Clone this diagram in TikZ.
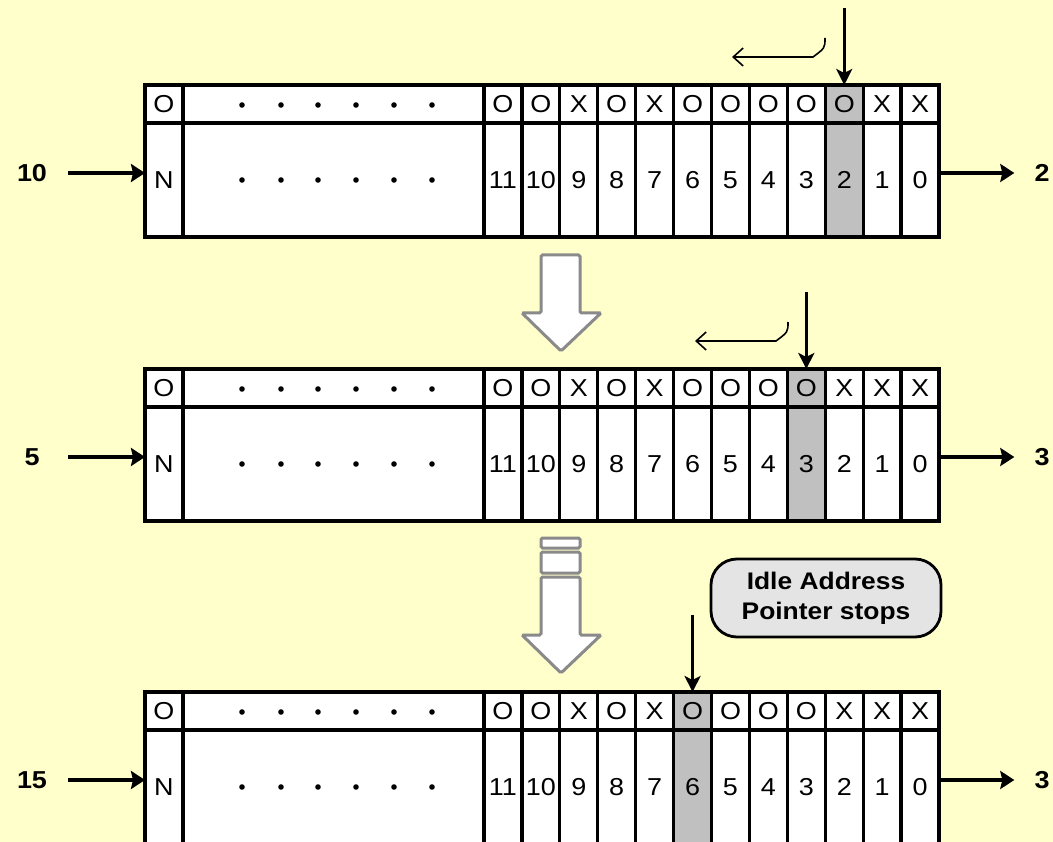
\documentclass[tikz,border=0pt]{standalone}
\usepackage{fontspec}
\setmainfont[FakeStretch=1.1]{Liberation Sans}
\usepackage{tikz}
\usetikzlibrary{arrows.meta,positioning}
\definecolor{paper}{HTML}{FFFFCC}
\definecolor{slotgray}{HTML}{C0C0C0}
\definecolor{bigarrow}{HTML}{8A8A8A}
\definecolor{notegray}{HTML}{E4E4E4}

\begin{document}
\begin{tikzpicture}[x=1pt,y=-1pt,
    cell/.style={draw, line width=3.3pt, inner sep=0pt, outer sep=0pt, anchor=north west,
                 minimum width=37.92pt, font=\fontsize{24.5}{26}\selectfont},
    flag/.style={cell, minimum height=38pt},
    slot/.style={cell, minimum height=114pt},
    io/.style={inner sep=0pt, font=\fontsize{24.5}{26}\selectfont\bfseries},
    feed/.style={line width=3.2pt, -{Stealth[length=14pt,width=18pt,inset=2pt]}},
    pointer/.style={line width=3pt, -{Stealth[length=16pt,width=16pt,inset=4pt]}},
    scan/.style={line width=1.6pt, -{Straight Barb[length=10pt,width=18pt]}},
    hollow/.style={draw=bigarrow, line width=3pt, fill=white, rounded corners=1.5pt}]
    \useasboundingbox (0,0) rectangle (1053,842);
    \clip (0,0) rectangle (1053,842);
    \fill[paper] (0,0) rectangle (1053,842);

    % Registers
    \foreach \r/\T/\hl/\inval/\outval/\marks in {1/85/9/10/2/{O,O,X,O,X,O,O,O,O,O,X,X},
                                                 2/369/8/5/3/{O,O,X,O,X,O,O,O,O,X,X,X},
                                                 3/692/5/15/3/{O,O,X,O,X,O,O,O,O,X,X,X}} {
        \node[flag, fill=white] (o\r) at (145,\T) {O};
        \node[slot, fill=white] (n\r) at (145,\T+38) {N};
        \node[flag, fill=white, minimum width=301pt] (gapA\r) at (183,\T) {};
        \node[slot, fill=white, minimum width=301pt] (gapB\r) at (183,\T+38) {};
        \foreach \m [count=\k from 0] in \marks {
            \pgfmathtruncatemacro\bitno{11-\k}
            \ifnum\k=\hl \def\cellfill{slotgray}\else\def\cellfill{white}\fi
            \node[flag, fill=\cellfill] (top\r-\k) at (484+37.92*\k,\T) {\m};
            \node[slot, fill=\cellfill] (bit\r-\k) at (484+37.92*\k,\T+38) {\bitno};
        }
        \foreach \dx in {242,281,318,356,394,432} {
            \fill (\dx,\T+20) circle (2.8pt);
            \fill (\dx,\T+95) circle (2.8pt);
        }
        % in and out
        \node[io] (in\r) at (32,\T+88) {\inval};
        \node[io] (out\r) at (1042,\T+88) {\outval};
        \coordinate (src\r) at (68,\T+88);
        \draw[feed] (src\r) -- (src\r -| n\r.west);
        \draw[feed, shorten >=20pt] (src\r -| bit\r-11.east) -- (out\r.west);
        % idle address pointer
        \coordinate (ptr\r) at ([yshift=77pt]top\r-\hl.north);
        \draw[pointer] (ptr\r) -- (top\r-\hl.north);
    }

    % Pointer moves on
    \foreach \r/\px/\T in {1/844/85, 2/807/369} {
        \coordinate (scanA\r) at (\px-19,\T-47);
        \coordinate (scanB\r) at (\px-31,\T-28);
        \coordinate (scanC\r) at (\px-112,\T-28);
        \draw[scan] (scanA\r) .. controls (\px-19,\T-37) .. (scanB\r) -- (scanC\r);
    }

    % Transition arrows
    \filldraw[hollow] (541,255) -- (580,255) -- (580,313) -- (601,313) -- (561,351)
        -- (522,313) -- (541,313) -- cycle;
    \filldraw[hollow] (541,538) rectangle (580,548);
    \filldraw[hollow] (541,552) rectangle (580,573);
    \filldraw[hollow] (541,577) -- (580,577) -- (580,635) -- (601,635) -- (561,673)
        -- (522,635) -- (541,635) -- cycle;

    \node[draw, line width=2.8pt, fill=notegray, rounded corners=26pt, minimum width=230pt,
          minimum height=78pt, align=center, font=\fontsize{24}{30}\selectfont\bfseries]
          (idle) at (826,598) {Idle Address\\Pointer stops};
\end{tikzpicture}
\end{document}
